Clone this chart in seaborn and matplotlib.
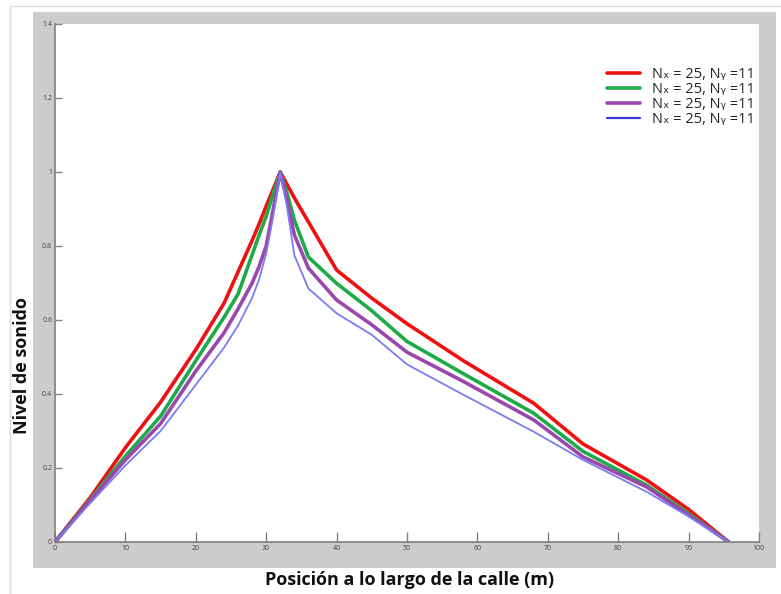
import matplotlib
matplotlib.use("Agg")
import matplotlib.pyplot as plt
import matplotlib.patches as patches
import pandas as pd
import seaborn as sns

# Data
x_pos = [0, 5, 10, 15, 20, 24, 26, 28, 29, 30, 31, 32, 33, 34, 36, 40,
         45, 50, 58, 68, 75, 84, 90, 95.7]
red = [0, 0.12, 0.255, 0.378, 0.52, 0.645, 0.73, 0.815, 0.86, 0.908, 0.954, 1.0,
       0.965, 0.93, 0.865, 0.735, 0.659, 0.59, 0.49, 0.375, 0.265, 0.168, 0.088, 0]
green = [0, 0.115, 0.232, 0.34, 0.49, 0.607, 0.67, 0.776, 0.83, 0.88, 0.942, 1.0,
         0.94, 0.87, 0.77, 0.699, 0.625, 0.542, 0.455, 0.348, 0.245, 0.154, 0.077, 0]
purple = [0, 0.112, 0.222, 0.32, 0.462, 0.565, 0.63, 0.70, 0.745, 0.80, 0.90, 1.0,
          0.92, 0.83, 0.74, 0.654, 0.587, 0.513, 0.434, 0.33, 0.23, 0.149, 0.073, 0]
blue = [0, 0.105, 0.207, 0.30, 0.425, 0.525, 0.585, 0.66, 0.71, 0.78, 0.88, 1.0,
        0.90, 0.775, 0.685, 0.618, 0.56, 0.48, 0.398, 0.298, 0.222, 0.136, 0.069, 0]

legend_label = "N\u2093 = 25, N\u1d67 =11"
x_ticks = [0, 10, 20, 30, 40, 50, 60, 70, 80, 90, 100]
y_ticks = [0, 0.2, 0.4, 0.6, 0.8, 1.0, 1.2, 1.4]
y_tick_labels = ["0", "0.2", "0.4", "0.6", "0.8", "1", "1.2", "1.4"]

df = pd.DataFrame({"x": x_pos, "red": red, "green": green, "purple": purple, "blue": blue})

sns.set_style("white")
plt.rcParams['font.family'] = ['Open Sans', 'DejaVu Sans']

fig = plt.figure(figsize=(7.81, 5.94), dpi=100)
fig.patch.set_facecolor("white")

# thin page frame and the grey panel behind the axes
fig.patches.append(patches.Rectangle((10 / 781, -0.01), 1.0, 1.0 - 6 / 594 + 0.01,
                                     transform=fig.transFigure, facecolor="white",
                                     edgecolor="#dddddd", linewidth=1, zorder=-2))
fig.patches.append(patches.Rectangle((33 / 781, 26 / 594), 743 / 781, 556 / 594,
                                     transform=fig.transFigure, facecolor="#cccccc",
                                     edgecolor="none", zorder=-1))

ax = fig.add_axes([55 / 781, 52 / 594, 704 / 781, 518 / 594])
ax.set_zorder(2)
ax.set_facecolor("white")

sns.lineplot(data=df, x="x", y="red", ax=ax, color="#ee1111", linewidth=2.6, label=legend_label)
sns.lineplot(data=df, x="x", y="green", ax=ax, color="#1faa48", linewidth=2.6, label=legend_label)
sns.lineplot(data=df, x="x", y="purple", ax=ax, color="#9a48ad", linewidth=2.6, label=legend_label)
sns.lineplot(data=df, x="x", y="blue", ax=ax, color="#7b7bf2", linewidth=1.3, label=legend_label)

ax.set_xlim(0, 100)
ax.set_ylim(0, 1.4)
ax.set_xticks(x_ticks)
ax.set_xticklabels([str(t) for t in x_ticks])
ax.set_yticks(y_ticks)
ax.set_yticklabels(y_tick_labels)
ax.set_xlabel("")
ax.set_ylabel("")

for side in ["top", "right"]:
    ax.spines[side].set_visible(False)
for side in ["left", "bottom"]:
    ax.spines[side].set_color("#808080")
    ax.spines[side].set_linewidth(1.2)
ax.tick_params(axis="x", direction="in", length=7, width=1, color="#808080",
               labelsize=5, labelcolor="#444444", pad=2)
ax.tick_params(axis="y", direction="in", length=5, width=1, color="#808080",
               labelsize=5, labelcolor="#444444", pad=2)
ax.xaxis.set_ticks_position("bottom")
ax.yaxis.set_ticks_position("left")

leg = ax.legend(loc="upper left", bbox_to_anchor=(601 / 781, 1 - 61 / 594),
                bbox_transform=fig.transFigure, frameon=False, fontsize=10.5,
                handlelength=2.3, handletextpad=0.8, labelspacing=0.0,
                borderaxespad=0)
leg.get_lines()[3].set_color("#3c3ccc")
leg.get_lines()[3].set_linewidth(1.6)

fig.text(410 / 781, 1 - 580 / 594, "Posición a lo largo de la calle (m)",
         ha="center", va="center", fontsize=13, fontweight="bold", color="#111111")
fig.text(22 / 781, 1 - 366 / 594, "Nivel de sonido", rotation=90,
         ha="center", va="center", fontsize=13, fontweight="bold", color="#111111")

fig.savefig("out.png", dpi=100)
